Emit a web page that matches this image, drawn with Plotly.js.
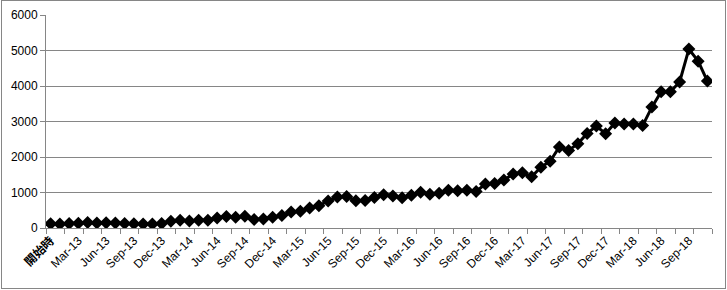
<!DOCTYPE html>
<html>
<head>
<meta charset="utf-8">
<script src="https://cdn.plot.ly/plotly-3.0.1.min.js"></script>
<style>
html,body{margin:0;padding:0;background:#fff;}
#wrap{position:relative;width:727px;height:290px;}
#chart{position:absolute;left:0;top:0;width:727px;height:290px;}
#frame{position:absolute;left:1px;top:0px;width:723px;height:287px;border:1px solid #868686;pointer-events:none;}
</style>
</head>
<body>
<div id="wrap"><div id="chart"></div><div id="frame"></div></div>
<script>
// Categories: start point then monthly Jan-13 .. Nov-18
const startLabel = "開始時";
const months = ["Jan","Feb","Mar","Apr","May","Jun","Jul","Aug","Sep","Oct","Nov","Dec"];
const years = ["13","14","15","16","17","18"];
const categories = [startLabel];
for (const yy of years) {
  for (const m of months) {
    if (yy === "18" && m === "Dec") break;
    categories.push(m + "-" + yy);
  }
}
const values = [
  120,110,125,135,155,140,145,140,130,120,110,110,125,190,220,195,215,215,
  280,325,300,330,240,250,300,350,450,475,560,630,760,870,890,770,775,860,
  940,900,850,920,1010,950,980,1060,1050,1060,1030,1240,1255,1350,1520,1555,
  1445,1710,1880,2285,2185,2375,2665,2870,2655,2960,2930,2930,2885,3405,3840,3840,
  4115,5040,4700,4140
];
const yTicks = [0,1000,2000,3000,4000,5000,6000];
const labelEvery = 3;
const tickVals = categories.filter((c,i)=> i % labelEvery === 0);
const tickText = tickVals.map(c => c === startLabel ? "<b>" + c + "</b>" : c);

const font = {family: "'Liberation Sans', 'Noto Sans CJK JP', Arial, sans-serif", size: 12, color: "#000"};
const gray = "#868686";

const traces = [
  {
    x: categories, y: values, type: "scatter", mode: "lines+markers",
    line: {color: "#000", width: 3},
    marker: {symbol: "diamond", size: 10, color: "#000"},
    hoverinfo: "skip", showlegend: false
  },
  {
    x: categories, y: values, xaxis: "x2", type: "scatter", mode: "lines",
    line: {color: "rgba(0,0,0,0)", width: 0}, opacity: 0,
    hoverinfo: "skip", showlegend: false
  }
];

const layout = {
  width: 727, height: 290,
  margin: {l: 46, r: 15, t: 15, b: 62},
  paper_bgcolor: "#fff", plot_bgcolor: "#fff",
  font: font,
  showlegend: false,
  xaxis: {
    type: "category",
    tickmode: "array", tickvals: tickVals, ticktext: tickText,
    tickangle: -45, ticks: "", showgrid: false,
    showline: true, linecolor: gray, linewidth: 1,
    tickfont: font, zeroline: false,
    range: [-0.5, categories.length - 0.5]
  },
  xaxis2: {
    type: "category", overlaying: "x", anchor: "y", side: "bottom",
    tickmode: "linear", tick0: 0, dtick: 2, tickson: "boundaries",
    ticks: "outside", ticklen: 5, tickcolor: gray, tickwidth: 1,
    showticklabels: false, showgrid: false, showline: false, zeroline: false,
    range: [-0.5, categories.length - 0.5]
  },
  yaxis: {
    range: [0, 6000], tickmode: "array", tickvals: yTicks,
    ticks: "outside", ticklen: 5, tickcolor: gray,
    showgrid: true, gridcolor: gray, gridwidth: 1,
    showline: true, linecolor: gray, linewidth: 1,
    zeroline: false, tickfont: font
  }
};

Plotly.newPlot("chart", traces, layout, {displayModeBar: false, staticPlot: true});
</script>
</body>
</html>
